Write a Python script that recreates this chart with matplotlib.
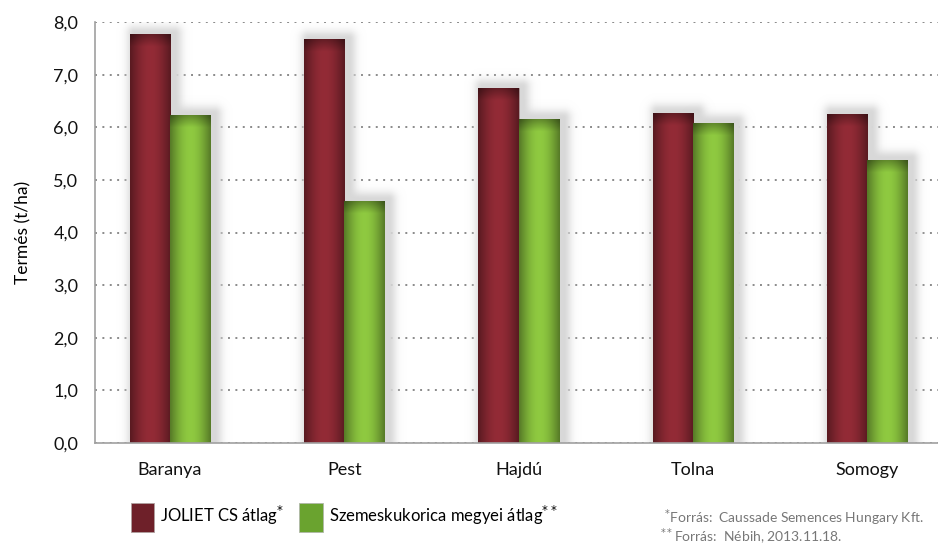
import numpy as np
import matplotlib
matplotlib.use("Agg")
import matplotlib.pyplot as plt
from matplotlib.colors import to_rgb
from matplotlib.patches import Patch

plt.rcParams['font.family'] = ['Lato', 'DejaVu Sans']

categories = ["Baranya", "Pest", "Hajdú", "Tolna", "Somogy"]
joliet = [7.76, 7.66, 6.74, 6.27, 6.24]
megyei = [6.22, 4.58, 6.15, 6.08, 5.36]
yticks = [0, 1, 2, 3, 4, 5, 6, 7, 8]
ytick_labels = ["0,0", "1,0", "2,0", "3,0", "4,0", "5,0", "6,0", "7,0", "8,0"]
series_labels = ["JOLIET CS átlag$^{*}$", "Szemeskukorica megyei átlag$^{**}$"]
footnotes = ["$^{*}$Forrás:  Caussade Semences Hungary Kft.",
             "$^{**}$Forrás:  Nébih, 2013.11.18."]

red = "#902a35"
green = "#8cc63f"

fig = plt.figure(figsize=(9.38, 5.49), dpi=100)
ax = fig.add_axes([95/938, 1-443/549, 1-95/938, (443-22)/549])

x = np.arange(len(categories))
w = 0.23
PX_X = 174.25   # pixels per x unit
PX_Y = 52.6     # pixels per y unit

ax.set_xlim((95-170)/PX_X, (938-170)/PX_X)
ax.set_ylim(0, 8)
ax.set_autoscale_on(False)


def shade(bar, color):
    x0 = bar.get_x(); x1 = x0 + bar.get_width(); h = bar.get_height()
    base = np.array(to_rgb(color))
    nx, ny = 60, 400
    u = np.linspace(0, 1, nx)
    hor = 0.62 + 0.40 * np.sin(np.pi * u)
    yy = np.linspace(h, 0, ny)
    dpx = (h - yy) * PX_Y
    top = 1 - 0.32 * np.clip(1 - dpx / 12.0, 0, 1)
    fac = top[:, None] * hor[None, :]
    img = np.clip(base[None, None, :] * fac[:, :, None], 0, 1)
    ax.imshow(img, extent=(x0, x1, 0, h), aspect='auto', zorder=3,
              interpolation='bilinear', origin='upper')


def shadow(bar):
    x0 = bar.get_x(); x1 = x0 + bar.get_width(); h = bar.get_height()
    pad = 18
    ox, oy = 4, 2  # shadow offset in px (right, up)
    ex0 = x0 - pad / PX_X; ex1 = x1 + (pad + ox) / PX_X
    ey1 = h + (pad + oy) / PX_Y
    nx, ny = 80, 300
    xs = np.linspace(ex0, ex1, nx)
    ys = np.linspace(ey1, 0, ny)
    dx = np.maximum(np.maximum((x0 + ox / PX_X) - xs, xs - (x1 + ox / PX_X)), 0) * PX_X
    dy = np.maximum(ys - (h + oy / PX_Y), 0) * PX_Y
    d = np.sqrt(dx[None, :] ** 2 + dy[:, None] ** 2)
    a = np.exp(-(d / 8.0) ** 2)
    rgba = np.zeros((ny, nx, 4))
    g = 0.85
    rgba[..., 0] = g; rgba[..., 1] = g; rgba[..., 2] = g
    rgba[..., 3] = a
    ax.imshow(rgba, extent=(ex0, ex1, 0, ey1), aspect='auto', zorder=1.5,
              interpolation='bilinear', origin='upper')


bars1 = ax.bar(x - w/2, joliet, w, color=red, edgecolor='#a89a9a', lw=0.6,
               zorder=2, label=series_labels[0])
bars2 = ax.bar(x + w/2, megyei, w, color=green, edgecolor='#b0b8a8', lw=0.6,
               zorder=2, label=series_labels[1])
for b in list(bars1) + list(bars2):
    shadow(b)
for b in bars1:
    shade(b, red)
for b in bars2:
    shade(b, green)

ax.set_xlim((95-170)/PX_X, (938-170)/PX_X)
ax.set_ylim(0, 8)
ax.set_aspect('auto')
ax.set_yticks(yticks)
ax.set_yticklabels(ytick_labels)
ax.set_xticks(x)
ax.set_xticklabels(categories)
ax.tick_params(axis='both', length=0, labelsize=13, colors='#111111')
ax.tick_params(axis='x', pad=14)
ax.tick_params(axis='y', pad=12)
for s in ['top', 'right']:
    ax.spines[s].set_visible(False)
for s in ['left', 'bottom']:
    ax.spines[s].set_color('#a0a0a0')
    ax.spines[s].set_linewidth(1.2)
    ax.spines[s].set_zorder(4)
ax.yaxis.grid(True, linestyle=(0, (1, 2.8)), linewidth=1.4, color='#8a8a8a')
ax.set_axisbelow(True)
ax.set_ylabel("Termés (t/ha)", fontsize=12.5)
ax.yaxis.set_label_coords(-64/843, 0.5)

handles = [Patch(facecolor="#6e2029", edgecolor='#b0a0a0', lw=0.6),
           Patch(facecolor="#6aa32f", edgecolor='#b0b8a8', lw=0.6)]
leg = fig.legend(handles=handles, labels=series_labels, loc='center left',
                 bbox_to_anchor=(131/938, 1-517/549), ncol=2, frameon=False,
                 fontsize=12, handlelength=1.4, handleheight=2.3,
                 handletextpad=0.35, columnspacing=0.9, borderpad=0,
                 borderaxespad=0)

fig.text(664/938, 1-518/549, footnotes[0], fontsize=10, color='#777777',
         va='center', ha='left')
fig.text(660/938, 1-537/549, footnotes[1], fontsize=10, color='#777777',
         va='center', ha='left')

fig.savefig("out.png", dpi=100)
